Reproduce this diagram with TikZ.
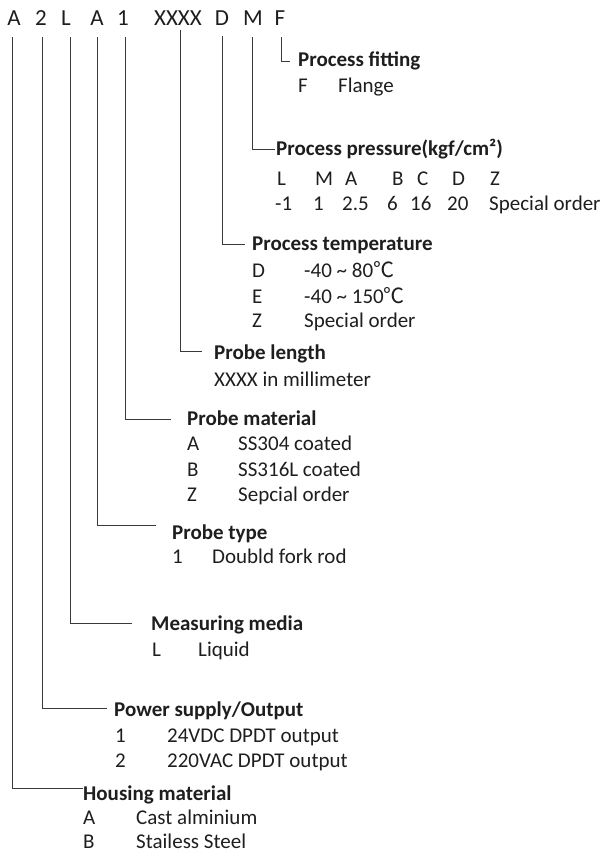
\documentclass[tikz,border=0pt]{standalone}
\usepackage{fontspec}
\setmainfont{Carlito}
\newfontfamily\cjk{Noto Sans CJK SC}
\newcommand{\degC}{{\cjk ℃}}
\definecolor{ink}{HTML}{1E1E1E}
\definecolor{wire}{HTML}{3A3A3A}
\tikzset{
  topl/.style={anchor=base, inner sep=0pt, text=ink, font=\fontsize{23}{26}\selectfont},
  lbl/.style={anchor=base west, inner sep=0pt, text=ink, font=\fontsize{21}{24}\selectfont\bfseries},
  txt/.style={anchor=base west, inner sep=0pt, text=ink, font=\fontsize{21}{24}\selectfont},
  conn/.style={draw=wire, line width=0.9pt}
}
\begin{document}
\begin{tikzpicture}[x=1pt,y=-1pt]
\useasboundingbox (0,0) rectangle (606,855);
% top code letters
\node[topl] (cA)  at (14,25)  {A};
\node[topl] (c2)  at (41,25)  {2};
\node[topl] (cL)  at (66,25)  {L};
\node[topl] (cA2) at (97,25)  {A};
\node[topl] (c1)  at (123,25) {1};
\node[topl] (cX)  at (178,25) {XXXX};
\node[topl] (cD)  at (222,25) {D};
\node[topl] (cM)  at (253,25) {M};
\node[topl] (cF)  at (280,25) {F};
% line starts
\coordinate (sA)  at (12.3,37);
\coordinate (s2)  at (42.3,37);
\coordinate (sL)  at (70,37);
\coordinate (sA2) at (97.7,37);
\coordinate (s1)  at (125.7,37);
\coordinate (sX)  at (180,30);
\coordinate (sD)  at (222.7,36);
\coordinate (sM)  at (252.3,37);
\coordinate (sF)  at (281.5,37);
% line ends
\coordinate (eF)  at (290,61);
\coordinate (eM)  at (275,149);
\coordinate (eD)  at (245,244);
\coordinate (eX)  at (202,351);
\coordinate (e1)  at (171,419);
\coordinate (eA2) at (156,525);
\coordinate (eL)  at (132,623);
\coordinate (e2)  at (107,708);
\coordinate (eA)  at (83,788);
\draw[conn] (sF) |- (eF);
\draw[conn] (sM) |- (eM);
\draw[conn] (sD) |- (eD);
\draw[conn] (sX) |- (eX);
\draw[conn] (s1) |- (e1);
\draw[conn] (sA2) |- (eA2);
\draw[conn] (sL) |- (eL);
\draw[conn] (s2) |- (e2);
\draw[conn] (sA) |- (eA);
% Process fitting
\node[lbl] (hF) at (298,66) {Process fitting};
\node[txt] (fF) at (298,92) {F};
\node[txt] (fFl) at (338,92) {Flange};
% Process pressure
\node[lbl] (hM) at (276,155) {Process pressure(kgf/cm²)};
\node[txt] (pL) at (277,185) {L};
\node[txt] (pM) at (315,185) {M};
\node[txt] (pA) at (345,185) {A};
\node[txt] (pB) at (392,185) {B};
\node[txt] (pC) at (417,185) {C};
\node[txt] (pD) at (452,185) {D};
\node[txt] (pZ) at (490,185) {Z};
\node[txt] (vL) at (275,210) {-1};
\node[txt] (vM) at (313,210) {1};
\node[txt] (vA) at (342,210) {2.5};
\node[txt] (vB) at (387,210) {6};
\node[txt] (vC) at (410,210) {16};
\node[txt] (vD) at (447,210) {20};
\node[txt] (vZ) at (489,210) {Special order};
% Process temperature
\node[lbl] (hD) at (252,250) {Process temperature};
\node[txt] (tD) at (252,277) {D};
\node[txt] (tE) at (252,303) {E};
\node[txt] (tZ) at (252,327) {Z};
\node[txt] (tDv) at (304,277) {-40 \textasciitilde\ 80\degC};
\node[txt] (tEv) at (304,303) {-40 \textasciitilde\ 150\degC};
\node[txt] (tZv) at (304,327) {Special order};
% Probe length
\node[lbl] (hX) at (214,359) {Probe length};
\node[txt] (xv) at (214,386) {XXXX in millimeter};
% Probe material
\node[lbl] (h1) at (187,425) {Probe material};
\node[txt] (mA) at (187,450) {A};
\node[txt] (mB) at (187,476) {B};
\node[txt] (mZ) at (187,501) {Z};
\node[txt] (mAv) at (238,450) {SS304 coated};
\node[txt] (mBv) at (238,476) {SS316L coated};
\node[txt] (mZv) at (238,501) {Sepcial order};
% Probe type
\node[lbl] (hA2) at (172,539) {Probe type};
\node[txt] (y1) at (172,563) {1};
\node[txt] (y1v) at (212,563) {Doubld fork rod};
% Measuring media
\node[lbl] (hL) at (151,630) {Measuring media};
\node[txt] (mdL) at (152,656) {L};
\node[txt] (mdLv) at (198,656) {Liquid};
% Power supply
\node[lbl] (h2) at (114,716) {Power supply/Output};
\node[txt] (o1) at (115,742) {1};
\node[txt] (o2) at (115,767) {2};
\node[txt] (o1v) at (167,742) {24VDC DPDT output};
\node[txt] (o2v) at (167,767) {220VAC DPDT output};
% Housing material
\node[lbl] (hA) at (83,800) {Housing material};
\node[txt] (gA) at (83,824) {A};
\node[txt] (gB) at (83,848) {B};
\node[txt] (gAv) at (136,824) {Cast alminium};
\node[txt] (gBv) at (136,848) {Stailess Steel};
\end{tikzpicture}
\end{document}
